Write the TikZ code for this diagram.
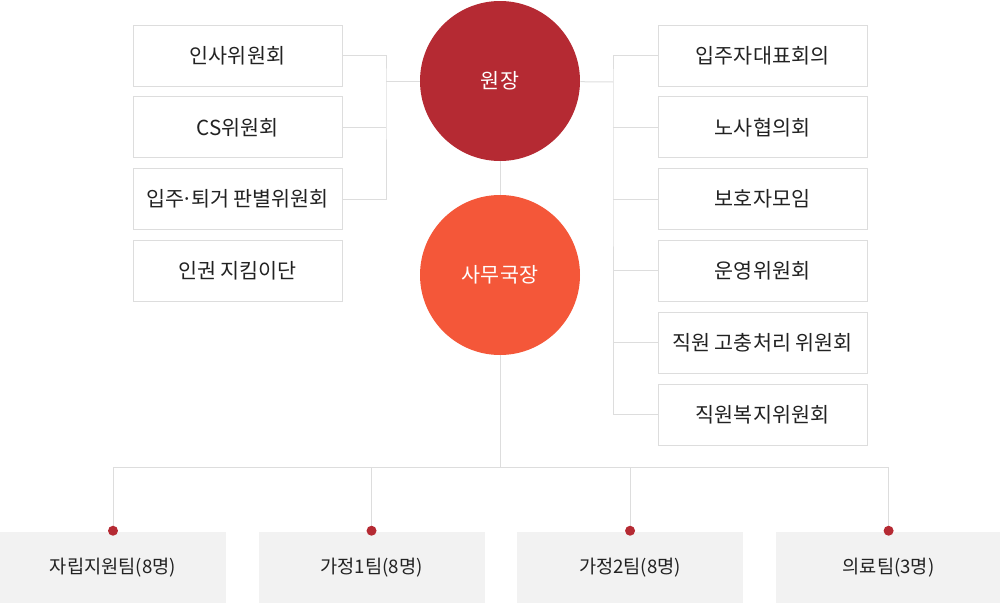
\documentclass[tikz,border=0pt]{standalone}
\usepackage{fontspec}
\setmainfont{Noto Sans CJK KR}
\usetikzlibrary{positioning}
\definecolor{orgHead}{HTML}{B52A33}
\definecolor{orgOffice}{HTML}{F45739}
\definecolor{orgLine}{HTML}{DDDDDD}
\definecolor{orgTeam}{HTML}{F2F2F2}
\definecolor{orgText}{HTML}{222222}

\begin{document}
\begin{tikzpicture}[x=0.75pt, y=-0.75pt,
  box/.style={draw=orgLine, fill=white, line width=0.75pt, align=center, text=orgText, font=\fontsize{15.5}{18}\selectfont, minimum width=156.75pt, minimum height=45.75pt, inner sep=0pt},
  team/.style={fill=orgTeam, align=center, text=orgText, font=\fontsize{14}{17}\selectfont, minimum width=169.5pt, minimum height=53.25pt, inner sep=0pt},
  circ/.style={circle, text=white, font=\fontsize{15.5}{18}\selectfont, minimum size=120pt, inner sep=0pt},
  link/.style={draw=orgLine, line width=0.75pt}
]
\useasboundingbox (0,0) rectangle (1000,603);

\node[circ, fill=orgHead] (head) at (500,81) {원장};
\node[circ, fill=orgOffice] (office) at (500,275) {사무국장};

\node[box] (c1) at (237.5,55.5) {인사위원회};
\node[box, below=7.35pt of c1] (c2) {CS위원회};
\node[box, below=7.35pt of c2] (c3) {입주\kern-1.8pt·\kern-1.8pt퇴거 판별위원회};
\node[box, below=7.35pt of c3] (c4) {인권 지킴이단};

\node[box] (r1) at (762.5,55.5) {입주자대표회의};
\node[box, below=7.35pt of r1] (r2) {노사협의회};
\node[box, below=7.35pt of r2] (r3) {보호자모임};
\node[box, below=7.35pt of r3] (r4) {운영위원회};
\node[box, below=7.35pt of r4] (r5) {직원 고충처리 위원회};
\node[box, below=7.35pt of r5] (r6) {직원복지위원회};

\node[team] (t1) at (113,567.5) {자립지원팀(8명)};
\node[team, right=24pt of t1] (t2) {가정1팀(8명)};
\node[team, right=24pt of t2] (t3) {가정2팀(8명)};
\node[team, right=24pt of t3] (t4) {의료팀(3명)};

\coordinate (lj) at (386,81);
\coordinate (rj) at (613,82);
\coordinate (bj) at (500,467);

\draw[link] (c1.east) -| (lj) |- (c3.east);
\draw[link] (c2.east) -- (c2.east -| lj);
\draw[link] (lj) -- (head);

\draw[link] (head) -- (rj);
\draw[link] (r1.west) -| (rj) |- (r6.west);
\foreach \r in {r2,r3,r4,r5}
  \draw[link] (\r.west -| rj) -- (\r.west);

\draw[link] (head) -- (office);
\draw[link] (office) -- (bj);
\draw[link] (t1.north |- bj) -- (t4.north |- bj);
\foreach \t in {t1,t2,t3,t4} {
  \draw[link] (\t.north |- bj) -- ([yshift=0.75pt]\t.north);
  \fill[orgHead] ([yshift=0.75pt]\t.north) circle (3.75pt);
}
\end{tikzpicture}
\end{document}
